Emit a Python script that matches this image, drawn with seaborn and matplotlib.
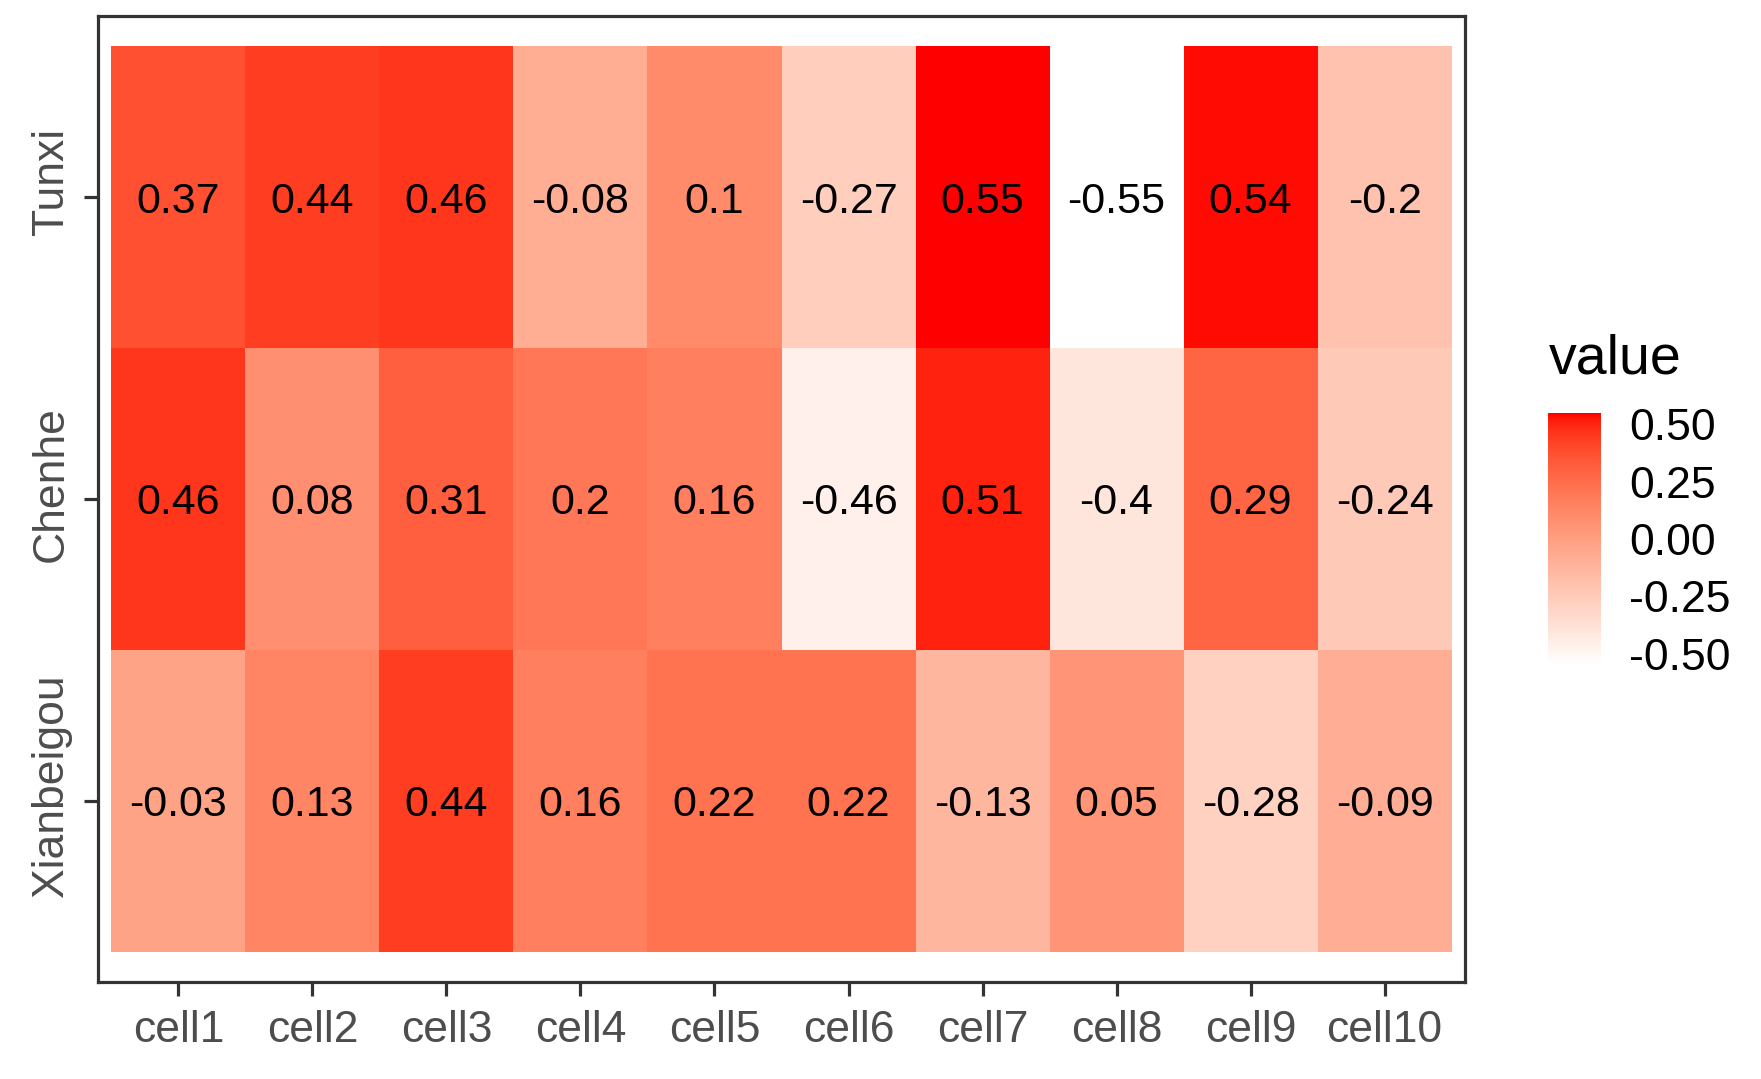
import numpy as np
import pandas as pd
import matplotlib
matplotlib.use('Agg')
import matplotlib.pyplot as plt
import matplotlib.transforms as mtransforms
from matplotlib.colors import ListedColormap
import seaborn as sns

# datos
sites = ['Tunxi', 'Chenhe', 'Xianbeigou']
cells = ['cell1', 'cell2', 'cell3', 'cell4', 'cell5',
         'cell6', 'cell7', 'cell8', 'cell9', 'cell10']
tunxi = [0.37, 0.44, 0.46, -0.08, 0.1, -0.27, 0.55, -0.55, 0.54, -0.2]
chenhe = [0.46, 0.08, 0.31, 0.2, 0.16, -0.46, 0.51, -0.4, 0.29, -0.24]
xianbeigou = [-0.03, 0.13, 0.44, 0.16, 0.22, 0.22, -0.13, 0.05, -0.28, -0.09]
cbar_ticks = [-0.5, -0.25, 0.0, 0.25, 0.5]

df = pd.DataFrame([tunxi, chenhe, xianbeigou], index=sites, columns=cells)
labels = df.map(lambda v: f'{v:g}')


# gradiente blanco -> rojo en espacio Lab (como scale_fill_gradient de ggplot)
def srgb_to_lab(rgb):
    rgb = np.asarray(rgb, dtype=float)
    lin = np.where(rgb <= 0.04045, rgb / 12.92, ((rgb + 0.055) / 1.055) ** 2.4)
    M = np.array([[0.4124, 0.3576, 0.1805],
                  [0.2126, 0.7152, 0.0722],
                  [0.0193, 0.1192, 0.9505]])
    xyz = lin @ M.T / np.array([0.95047, 1.0, 1.08883])
    f = np.where(xyz > (6 / 29) ** 3, np.cbrt(xyz), xyz / (3 * (6 / 29) ** 2) + 4 / 29)
    L = 116 * f[..., 1] - 16
    a = 500 * (f[..., 0] - f[..., 1])
    b = 200 * (f[..., 1] - f[..., 2])
    return np.stack([L, a, b], axis=-1)


def lab_to_srgb(lab):
    L, a, b = lab[..., 0], lab[..., 1], lab[..., 2]
    fy = (L + 16) / 116
    fx = fy + a / 500
    fz = fy - b / 200
    f = np.stack([fx, fy, fz], axis=-1)
    xyz = np.where(f > 6 / 29, f ** 3, 3 * (6 / 29) ** 2 * (f - 4 / 29))
    xyz = xyz * np.array([0.95047, 1.0, 1.08883])
    Minv = np.array([[3.2406, -1.5372, -0.4986],
                     [-0.9689, 1.8758, 0.0415],
                     [0.0557, -0.2040, 1.0570]])
    lin = xyz @ Minv.T
    lin = np.clip(lin, 0, 1)
    rgb = np.where(lin <= 0.0031308, 12.92 * lin, 1.055 * lin ** (1 / 2.4) - 0.055)
    return np.clip(rgb, 0, 1)


lab_lo = srgb_to_lab([1.0, 1.0, 1.0])
lab_hi = srgb_to_lab([1.0, 0.0, 0.0])
t = np.linspace(0, 1, 256)[:, None]
cmap = ListedColormap(lab_to_srgb(lab_lo + t * (lab_hi - lab_lo)))

sns.set_style('white')
plt.rcParams['font.family'] = ['Liberation Sans', 'DejaVu Sans']

W, H = 1761, 1079
fig = plt.figure(figsize=(W / 100, H / 100), dpi=100)
ax = fig.add_axes([98 / W, 1 - 982 / H, (1465 - 98) / W, (982 - 16) / H])
cax = fig.add_axes([1548 / W, 1 - 665 / H, (1601 - 1548) / W, (665 - 413) / H])

vmin, vmax = min(df.min()), max(df.max())
sns.heatmap(df, cmap=cmap, vmin=vmin, vmax=vmax, annot=labels, fmt='',
            annot_kws={'fontsize': 31, 'color': 'black', 'va': 'center_baseline'},
            cbar=True, cbar_ax=cax, ax=ax, linewidths=0)

ax.set_xlim(-0.1, len(cells) + 0.1)
ax.set_ylim(len(sites) + 0.1, -0.1)
ax.set_xlabel('')
ax.set_ylabel('')
for s in ax.spines.values():
    s.set_visible(True)
    s.set_color('#333333')
    s.set_linewidth(2.3)
ax.tick_params(axis='both', which='both', bottom=True, left=True,
               color='#333333', length=10, width=2.3,
               labelcolor='#4D4D4D', labelsize=32)
ax.tick_params(axis='x', pad=10)
ax.tick_params(axis='y', pad=9)
plt.setp(ax.get_xticklabels(), rotation=0)
# etiquetas y giradas, algo desplazadas hacia arriba como en el original
shift = mtransforms.ScaledTranslation(0, 11 / 72, fig.dpi_scale_trans)
for lab in ax.get_yticklabels():
    lab.set_rotation(90)
    lab.set_ha('right')
    lab.set_va('center')
    lab.set_transform(lab.get_transform() + shift)

cbar = ax.collections[0].colorbar
cbar.outline.set_visible(False)
cbar.set_ticks(cbar_ticks)
cbar.set_ticklabels([f'{v:.2f}' for v in cbar_ticks])
cax.tick_params(axis='y', direction='in', left=True, right=True,
                labelleft=False, labelright=True, color='white',
                length=6.5, width=1.5, labelsize=32, labelcolor='black', pad=20)

fig.text(1549 / W, 1 - 360 / H, 'value', fontsize=40, color='black',
         ha='left', va='center')

plt.savefig('out.png', dpi=100)
